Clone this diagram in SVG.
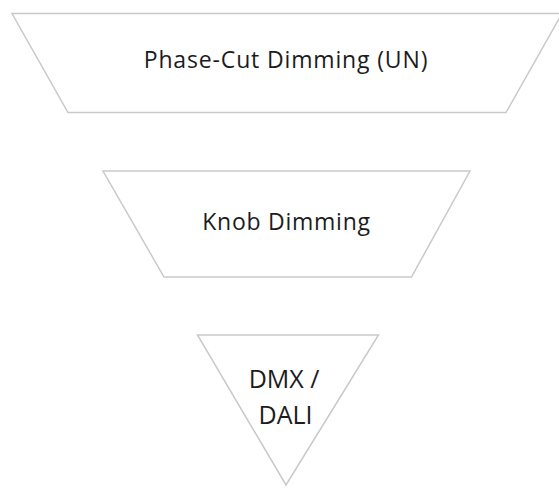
<svg xmlns="http://www.w3.org/2000/svg" width="559" height="488" viewBox="0 0 559 488">
<style>
.shape{fill:#ffffff;stroke:#c9c9c9;stroke-width:1.5;stroke-linejoin:miter}
.lbl{font-family:"Open Sans","Noto Sans",sans-serif;font-weight:500;fill:#1c1c1c;text-anchor:middle}
</style>
<rect width="559" height="488" fill="#ffffff"/>
<g id="connectors"></g>
<g id="phase-cut">
<polygon class="shape" points="12,13.5 562,13.5 506,112.5 68,112.5"/>
<text class="lbl" x="286" y="68" font-size="23" letter-spacing="0.85">Phase-Cut Dimming (UN)</text>
</g>
<g id="knob">
<polygon class="shape" points="103,171 470,171 411.5,277 164,277"/>
<text class="lbl" x="286.5" y="229.5" font-size="23" letter-spacing="0.75">Knob Dimming</text>
</g>
<g id="dmx-dali">
<polygon class="shape" points="197.5,335 378.5,335 286,485"/>
<text class="lbl" x="284" y="387.5" font-size="25">DMX /</text>
<text class="lbl" x="285.5" y="424" font-size="25">DALI</text>
</g>
</svg>
